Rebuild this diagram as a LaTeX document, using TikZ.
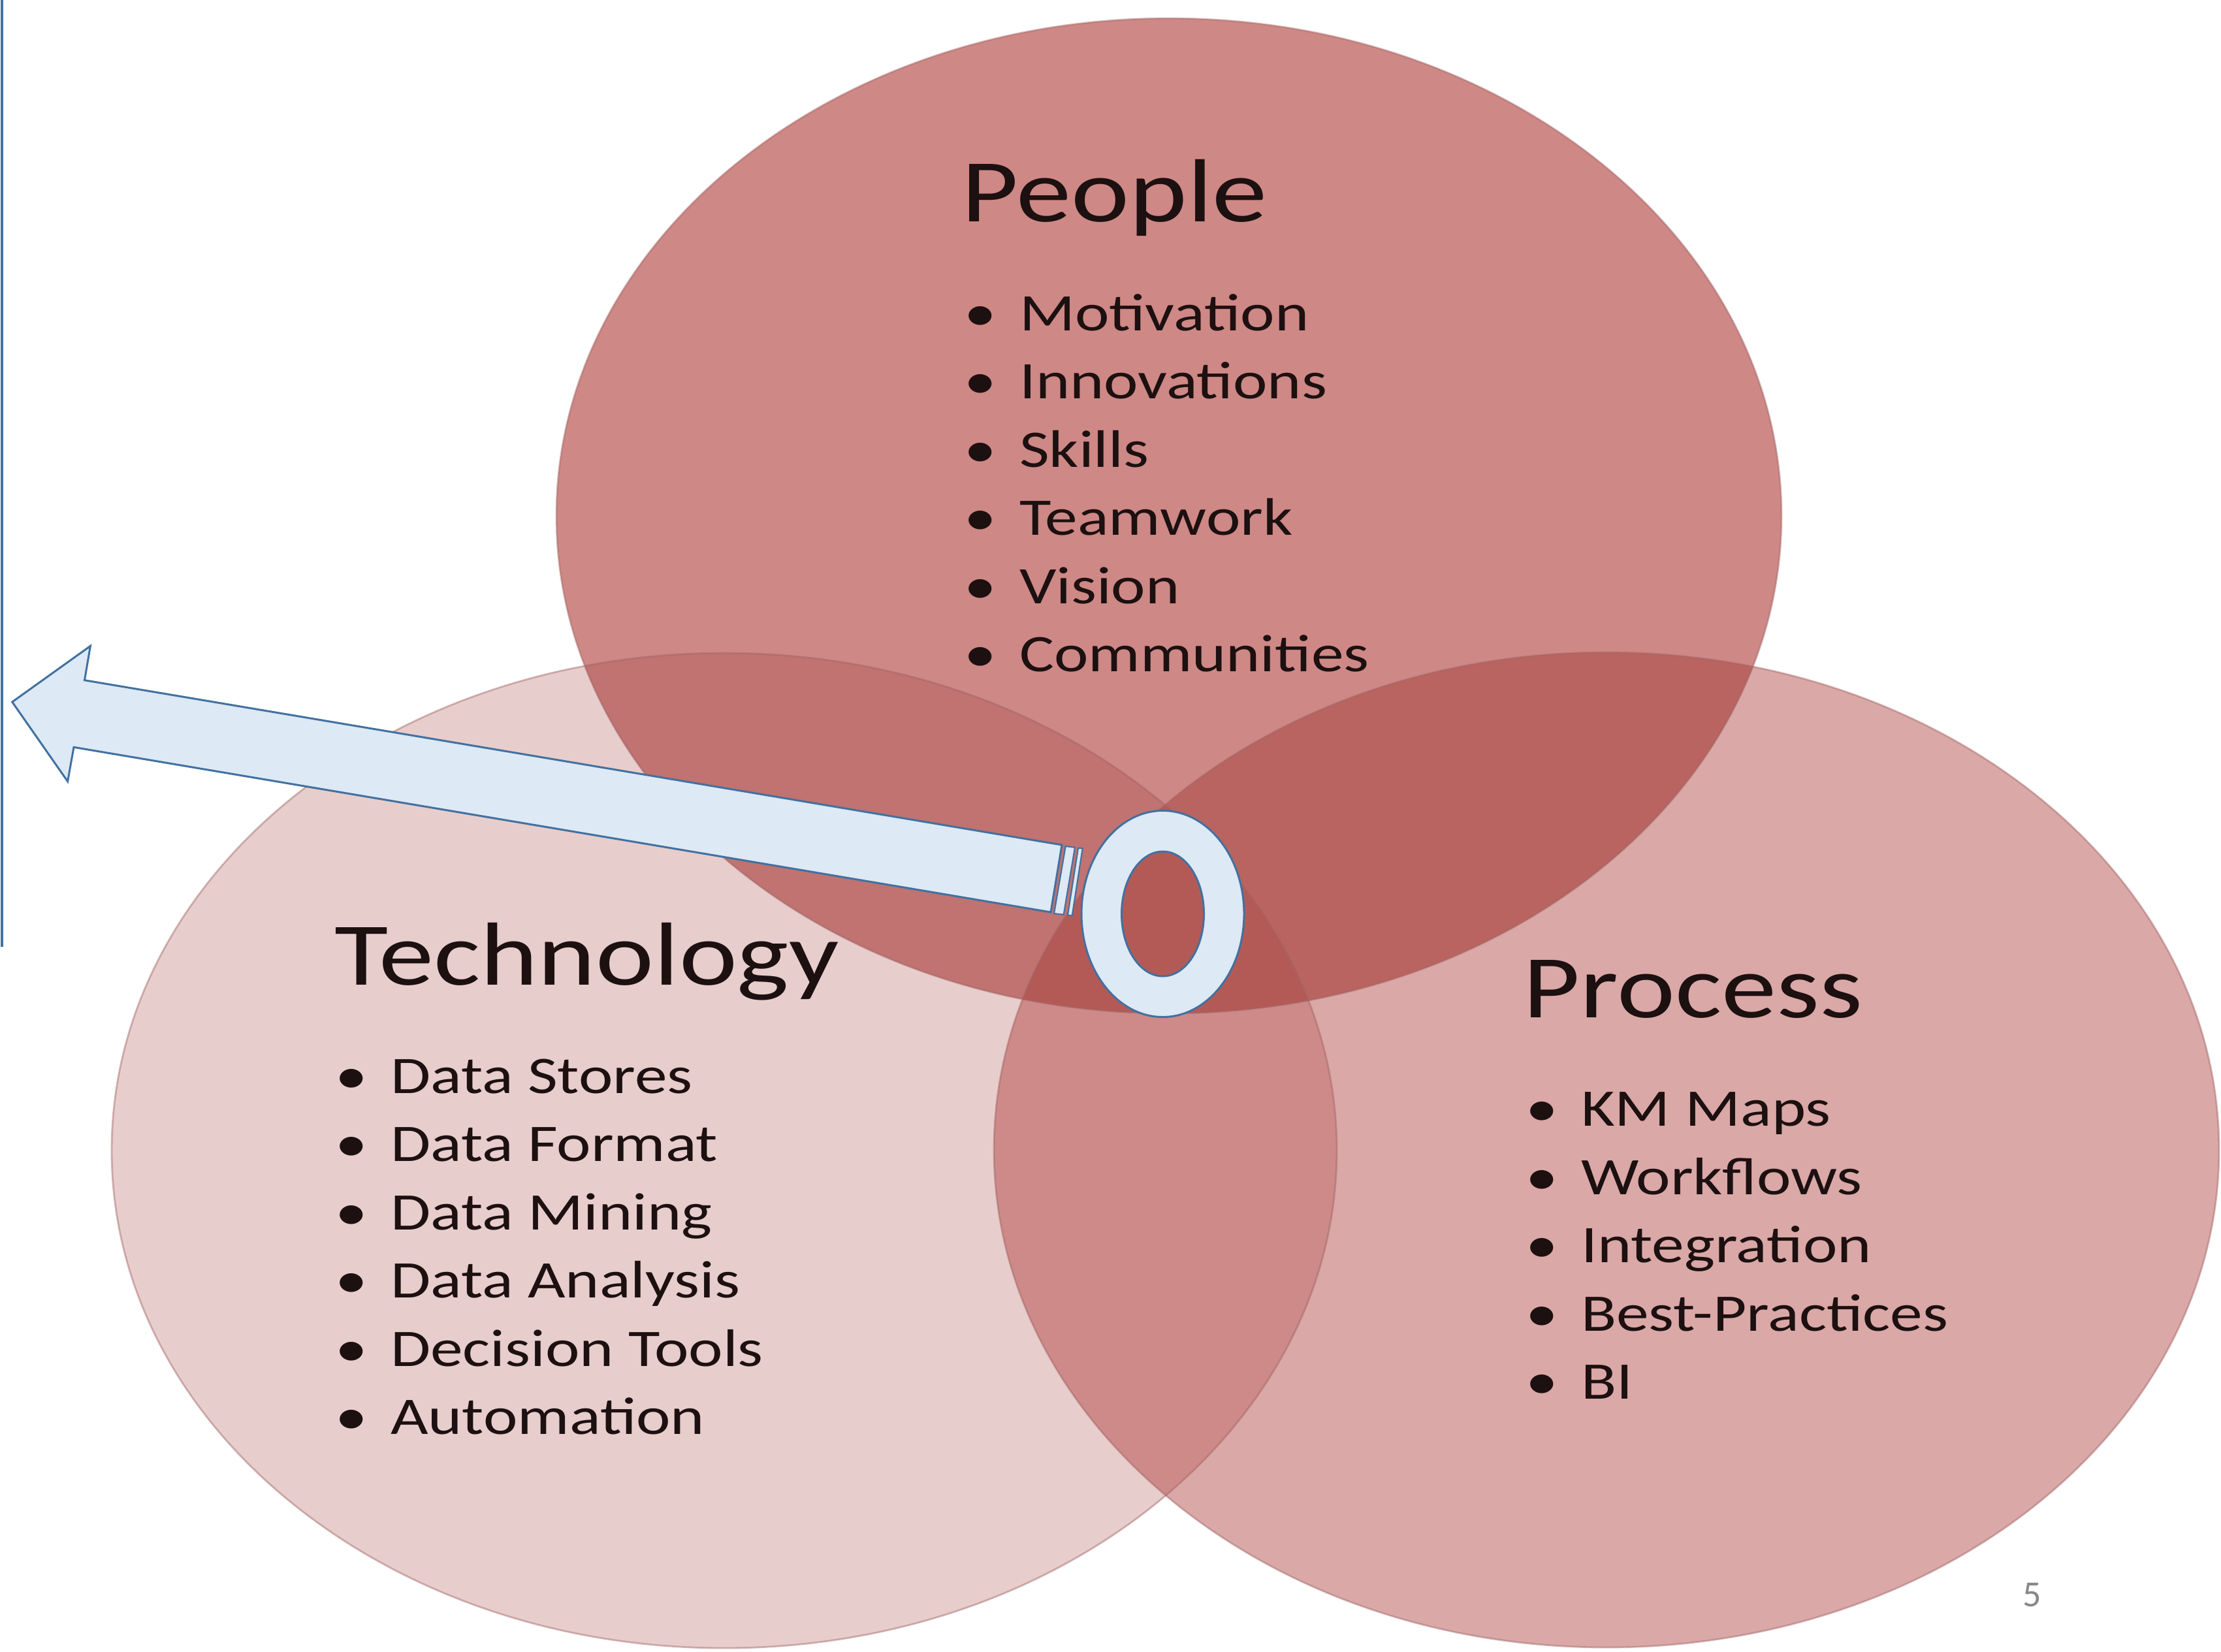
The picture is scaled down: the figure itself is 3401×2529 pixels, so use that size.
\documentclass[tikz,border=0pt]{standalone}
\usepackage{fontspec}
\setmainfont{Carlito}[FakeStretch=1.23]
\newfontfamily\pagenofont{Carlito}
\definecolor{peoplered}{RGB}{206,136,134}
\definecolor{techpink}{RGB}{232,205,205}
\definecolor{procpink}{RGB}{218,168,167}
\definecolor{pepltech}{RGB}{192,115,112}
\definecolor{peplproc}{RGB}{185,100,96}
\definecolor{techproc}{RGB}{205,138,136}
\definecolor{allthree}{RGB}{180,90,86}
\definecolor{vennline}{RGB}{160,100,100}
\definecolor{keyblue}{RGB}{221,233,245}
\definecolor{keyline}{RGB}{65,113,160}
\definecolor{inkdark}{RGB}{28,16,16}
\definecolor{pagegray}{RGB}{137,137,137}
\begin{document}
\begin{tikzpicture}[x=0.01cm, y=-0.01cm,
  venn/.style={x radius=938, y radius=762},
  vennedge/.style={draw=vennline, draw opacity=0.45, line width=0.8pt},
  title/.style={anchor=base west, inner sep=0, text=inkdark, font=\fontsize{39}{47}\selectfont},
  item/.style={anchor=base west, inner sep=0, text=inkdark, font=\fontsize{23}{28}\selectfont},
  keyshape/.style={fill=keyblue, draw=keyline, line width=0.85pt}]
\useasboundingbox (0,0) rectangle (3401,2529);
\coordinate (cpeople) at (1790,790);
\coordinate (ctech) at (1109,1762);
\coordinate (cproc) at (2460,1761);
\coordinate (cring) at (1780.5,1399.5);
% the three sets
\fill[techpink] (ctech) ellipse [venn];
\fill[procpink] (cproc) ellipse [venn];
\fill[peoplered] (cpeople) ellipse [venn];
\begin{scope}
\clip (ctech) ellipse [venn];
\fill[techproc] (cproc) ellipse [venn];
\end{scope}
\begin{scope}
\clip (cpeople) ellipse [venn];
\fill[pepltech] (ctech) ellipse [venn];
\fill[peplproc] (cproc) ellipse [venn];
\clip (ctech) ellipse [venn];
\fill[allthree] (cproc) ellipse [venn];
\end{scope}
\draw[vennedge] (ctech) ellipse [venn];
\draw[vennedge] (cproc) ellipse [venn];
\draw[vennedge] (cpeople) ellipse [venn];
% labels
\node[title] (ppltitle) at (1472,339) {People};
\node[item] (ppl1) at (1476,506) {\makebox[24pt][l]{\textbullet}Motivation};
\node[item] (ppl2) at (1476,610) {\makebox[24pt][l]{\textbullet}Innovations};
\node[item] (ppl3) at (1476,715) {\makebox[24pt][l]{\textbullet}Skills};
\node[item] (ppl4) at (1476,819) {\makebox[24pt][l]{\textbullet}Teamwork};
\node[item] (ppl5) at (1476,924) {\makebox[24pt][l]{\textbullet}Vision};
\node[item] (ppl6) at (1476,1028) {\makebox[24pt][l]{\textbullet}Communities};
\node[title] (techtitle) at (512,1508) {Technology};
\node[item] (tech1) at (513,1674) {\makebox[24pt][l]{\textbullet}Data Stores};
\node[item] (tech2) at (513,1778) {\makebox[24pt][l]{\textbullet}Data Format};
\node[item] (tech3) at (513,1883) {\makebox[24pt][l]{\textbullet}Data Mining};
\node[item] (tech4) at (513,1987) {\makebox[24pt][l]{\textbullet}Data Analysis};
\node[item] (tech5) at (513,2092) {\makebox[24pt][l]{\textbullet}Decision Tools};
\node[item] (tech6) at (513,2196) {\makebox[24pt][l]{\textbullet}Automation};
\node[title] (proctitle) at (2332,1558) {Process};
\node[item] (proc1) at (2336,1724) {\makebox[24pt][l]{\textbullet}KM Maps};
\node[item] (proc2) at (2336,1829) {\makebox[24pt][l]{\textbullet}Workflows};
\node[item] (proc3) at (2336,1933) {\makebox[24pt][l]{\textbullet}Integration};
\node[item] (proc4) at (2336,2038) {\makebox[24pt][l]{\textbullet}Best-Practices};
\node[item] (proc5) at (2336,2142) {\makebox[24pt][l]{\textbullet}BI};
% key pointing left
\draw[draw=keyline, line width=1pt] (3,0) -- (3,1450);
\filldraw[keyshape] (18.7,1075) -- (138.4,989.3) -- (129.5,1041.7) -- (1626,1294)
  -- (1609,1397) -- (113,1144.3) -- (103.6,1196.7) -- cycle;
\filldraw[keyshape, line width=0.6pt] (1631.7,1296) -- (1646,1297.7) -- (1628.7,1400.7) -- (1614,1399) -- cycle;
\filldraw[keyshape, line width=0.6pt] (1651,1298.7) -- (1657.7,1299.3) -- (1641.7,1402.3) -- (1635,1401.3) -- cycle;
\filldraw[keyshape, even odd rule] (cring) ellipse [x radius=124.5, y radius=158]
  (cring) ellipse [x radius=63, y radius=95.5];
\node[anchor=base west, inner sep=0, text=pagegray, font=\pagenofont\fontsize{16}{19}\selectfont] (pageno) at (3097,2460) {5};
\end{tikzpicture}
\end{document}
